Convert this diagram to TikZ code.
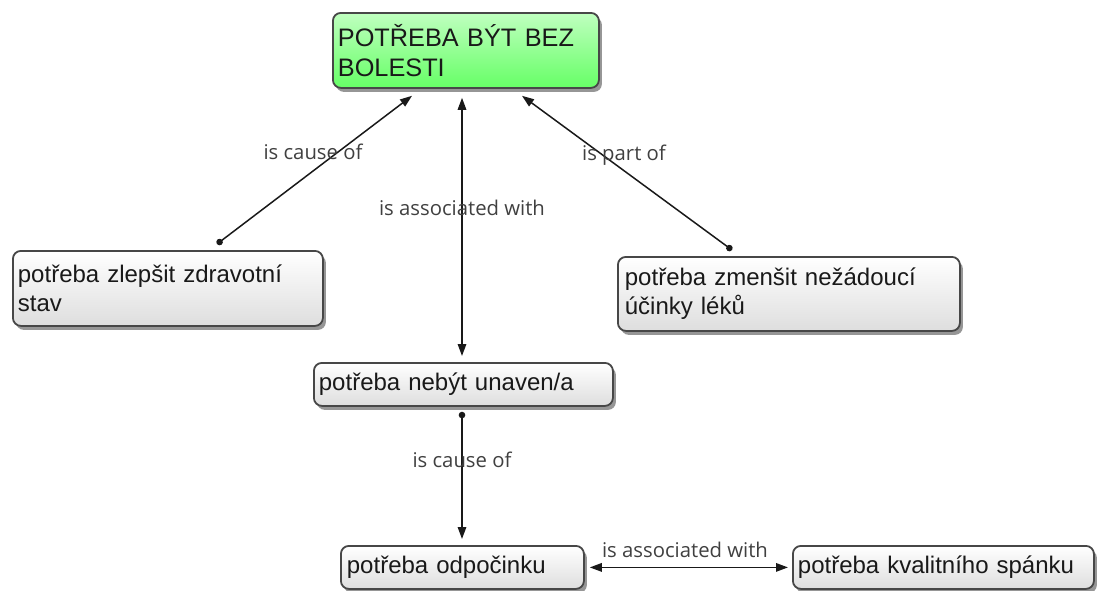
\documentclass[tikz,border=0pt]{standalone}
\usepackage{fontspec}
\setmainfont{Liberation Sans}
\newfontfamily\lblfont{Open Sans}
\usetikzlibrary{arrows.meta,shadows,calc}
\begin{document}
\begin{tikzpicture}[x=1pt,y=-1pt,
  concept/.style={draw=black!72, line width=1.8pt, rounded corners=8pt,
    top color=white, bottom color=black!13, align=left, anchor=north west,
    inner xsep=5pt, inner ysep=3pt, text=black!90, font=\fontsize{24}{29}\selectfont,
    drop shadow={shadow xshift=3pt, shadow yshift=-4pt, opacity=0.55, fill=black!75}},
  lbl/.style={font=\lblfont\fontsize{20.3}{22}\selectfont, text=black!75, inner sep=1pt},
  link/.style={line width=1.5pt, black!90},
  dot/.style={{Circle[length=6.5pt]}-{Triangle[length=12pt,width=8.5pt]}},
  both/.style={{Triangle[length=12pt,width=8.5pt]}-{Triangle[length=12pt,width=8.5pt]}}
]
\useasboundingbox (0,0) rectangle (1104,590);
\node[concept, top color=green!25!white, bottom color=green!60!white,
  minimum width=266pt, minimum height=75pt, text width=256pt,
  font=\fontsize{25.3}{30}\selectfont] (top) at (332,12) {POTŘEBA BÝT BEZ\\BOLESTI};
\node[concept, minimum width=310pt, minimum height=75pt, text width=300pt] (zdr) at (12,250) {potřeba zlepšit zdravotní\\stav};
\node[concept, minimum width=338pt, minimum height=74pt, text width=328pt, inner xsep=7pt] (lek) at (617,256) {potřeba zmenšit nežádoucí\\účinky léků};
\node[concept, minimum width=299pt, minimum height=43pt, text width=289pt] (una) at (313,362) {potřeba nebýt unaven/a};
\node[concept, minimum width=241pt, minimum height=43pt, text width=231pt, inner xsep=6pt] (odp) at (340,545) {potřeba odpočinku};
\node[concept, minimum width=301pt, minimum height=43pt, text width=291pt] (spa) at (792,545) {potřeba kvalitního spánku};

\draw[link,dot] ($(zdr.north west)+(205,-6)$) -- ($(top.south west)+(80,7)$);
\draw[link,dot] ($(lek.north west)+(115,-6)$) -- ($(top.south west)+(190,7)$);
\draw[link,both] ($(top.south west)+(130,9)$) -- ($(una.north west)+(149,-6)$);
\draw[link,dot] ($(una.south west)+(149,5)$) -- ($(odp.north west)+(122,-6)$);
\draw[link,both] ($(odp.east)+(5,0)$) -- ($(spa.west)+(-4,0)$);

\node[lbl] (l1) at (313,152) {is cause of};
\node[lbl] (l2) at (624,155) {is part of};
\node[lbl] (l3) at (462,208) {is associated with};
\node[lbl] (l4) at (462,460) {is cause of};
\node[lbl] (l5) at (685,550) {is associated with};
\end{tikzpicture}
\end{document}
